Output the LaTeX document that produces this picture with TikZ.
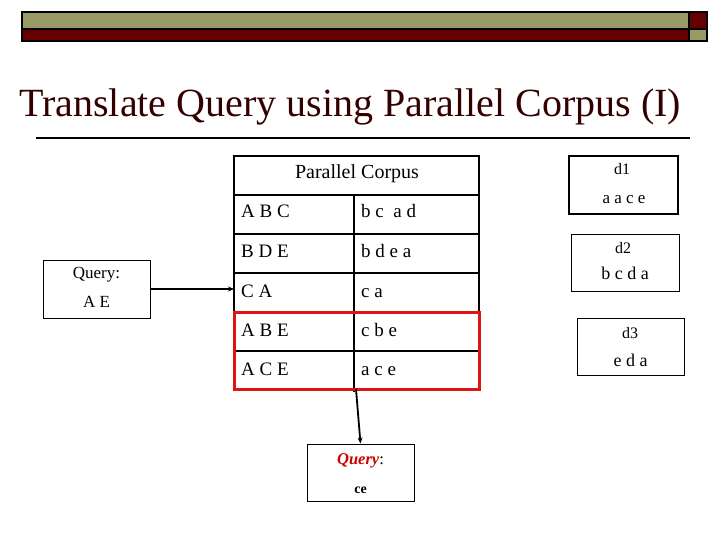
\documentclass[tikz,border=0pt]{standalone}
\usepackage{fontspec}
\setmainfont{Liberation Serif}
\usetikzlibrary{arrows.meta}
\definecolor{barolive}{RGB}{153,153,102}
\definecolor{barred}{RGB}{102,0,0}
\definecolor{titlecol}{RGB}{51,0,0}
\definecolor{hilite}{RGB}{225,20,20}
\definecolor{qred}{RGB}{204,0,0}
\tikzset{
  box/.style={draw=black, line width=1pt, inner sep=0pt},
  txt/.style={inner sep=0pt, anchor=base west, font=\fontsize{19}{22}\selectfont},
  ctr/.style={inner sep=0pt, anchor=base, font=\fontsize{16}{19}\selectfont},
  arr/.style={draw=black, line width=1.8pt, -{Stealth[length=6pt,width=5pt]}},
  thickline/.style={line width=2.5pt},
  thinline/.style={line width=1.3pt}
}
\begin{document}
\begin{tikzpicture}[x=1pt,y=-1pt]
\useasboundingbox (0,0) rectangle (720,540);
% header bars
\fill[barolive] (22,12) rectangle (689,29);
\fill[barred] (689,12) rectangle (707,29);
\fill[barred] (22,29) rectangle (689,41);
\fill[barolive] (689,29) rectangle (707,41);
\draw[line width=1.8pt] (22,12) rectangle (707,41);
\draw[line width=1.5pt] (22,29) -- (707,29) (689,12) -- (689,41);
% title
\node[anchor=base west, inner sep=0pt, text=titlecol, font=\fontsize{40}{46}\selectfont] (title) at (19,117) {Translate Query using Parallel Corpus (I)};
\draw[line width=1.8pt] (36,138) -- (690,138);
% table
\node[inner sep=0pt, minimum width=245pt, minimum height=233pt, anchor=north west] (tbl) at (234,156) {};
\draw[thinline] (234,195) -- (479,195) (234,234) -- (479,234) (234,273) -- (479,273) (234,351) -- (479,351);
\draw[thinline] (354,195) -- (354,392);
\draw[thickline] (234,389) -- (234,156) -- (479,156) -- (479,389);
\node[ctr, font=\fontsize{20}{23}\selectfont] (hdr) at (357,179) {Parallel Corpus};
\node[txt] (r1a) at (241,218) {A B C};
\node[txt] (r1b) at (361,218) {b c\ \ a d};
\node[txt] (r2a) at (241,257) {B D E};
\node[txt] (r2b) at (361,257) {b d e a};
\node[txt] (r3a) at (241,297) {C A};
\node[txt] (r3b) at (361,297) {c a};
\node[txt] (r4a) at (241,336) {A B E};
\node[txt] (r4b) at (361,336) {c b e};
\node[txt] (r5a) at (241,375) {A C E};
\node[txt] (r5b) at (361,375) {a c e};
\draw[hilite, line width=3pt] (234,312) rectangle (479,389);
% query box left
\node[box, minimum width=107pt, minimum height=58pt] (q1) at (96.5,289) {};
\node[ctr, font=\fontsize{17}{20}\selectfont] (q1a) at (96.5,278) {Query:};
\node[ctr, font=\fontsize{17}{20}\selectfont] (q1b) at (96.5,307) {A E};
\draw[arr] (q1.east) -- (q1.east -| tbl.west);
% query box bottom
\node[box, minimum width=107pt, minimum height=57pt] (q2) at (360.5,472.5) {};
\node[ctr, font=\fontsize{16.5}{19}\selectfont] (q2a) at (360.5,464) {\textcolor{qred}{\textbf{\textit{Query}}}:};
\node[ctr, font=\fontsize{14}{17}\selectfont\bfseries] (q2b) at (360.5,493) {ce};
\coordinate (tb) at (356,389);
\draw[arr] (tb) -- (q2.north);
% d boxes
\node[box, line width=2.2pt, minimum width=109pt, minimum height=58pt] (d1) at (623.5,185) {};
\node[ctr] (d1a) at (622,175) {d1};
\node[ctr, font=\fontsize{17}{20}\selectfont] (d1b) at (624,204) {a\ a\ c\ e};
\node[box, minimum width=108pt, minimum height=57pt] (d2) at (625,262.5) {};
\node[ctr] (d2a) at (623,254) {d2};
\node[ctr, font=\fontsize{18}{21}\selectfont] (d2b) at (625,279) {b c d a};
\node[box, minimum width=107pt, minimum height=57pt] (d3) at (630.5,346.5) {};
\node[ctr] (d3a) at (630,338) {d3};
\node[ctr, font=\fontsize{18}{21}\selectfont] (d3b) at (630.5,366) {e d a};
\end{tikzpicture}
\end{document}
